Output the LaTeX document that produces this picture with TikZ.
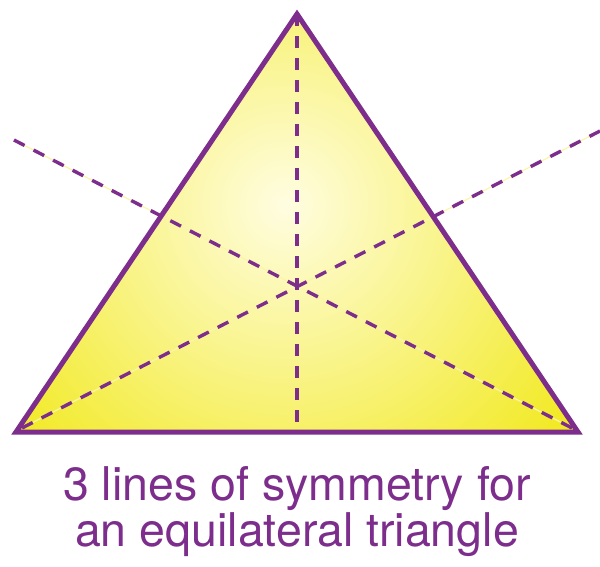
\documentclass[tikz,border=0pt]{standalone}
\usepackage{fontspec}
\setmainfont{TeX Gyre Heros}
\definecolor{tpurple}{RGB}{125,45,140}
\definecolor{tyellow}{RGB}{240,231,10}
\definecolor{tlight}{RGB}{255,253,225}
\definecolor{tpale}{RGB}{250,245,170}
\begin{document}
\begin{tikzpicture}[x=1pt,y=-1pt,
  symline/.style={tpurple,line width=3.4pt,dash pattern=on 12pt off 10pt},
  paleline/.style={tpale,line width=1.2pt},
  edge/.style={tpurple,line width=5pt,line join=miter},
  caption/.style={tpurple,font=\fontsize{46.5}{41}\selectfont,align=center,inner sep=0pt}]
\useasboundingbox (0,0) rectangle (600,566);
\coordinate (A) at (297,14);
\coordinate (B) at (16,432);
\coordinate (C) at (578,432);
\coordinate (M) at (297,430);
\coordinate (BL) at (22,428);
\coordinate (BR) at (572,428);
\coordinate (E1) at (600,131);
\coordinate (E2) at (14,140);
\begin{scope}
  \clip (A) -- (B) -- (C) -- cycle;
  \shade[inner color=tlight,outer color=tyellow] (285,205) circle (400);
\end{scope}
\draw[paleline] (BL) -- (E1);
\draw[paleline] (E2) -- (BR);
\draw[symline] (A) -- (M);
\draw[symline] (BL) -- (E1);
\draw[symline] (BR) -- (E2);
\draw[edge] (A) -- (B) -- (C) -- cycle;
\node[caption,anchor=base] (cap) at (297,546) {3 lines of symmetry for\\an equilateral triangle};
\end{tikzpicture}
\end{document}
